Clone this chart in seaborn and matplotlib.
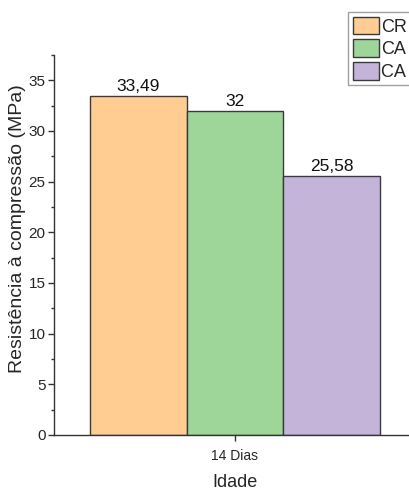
import matplotlib
matplotlib.use("Agg")
import matplotlib.pyplot as plt
import seaborn as sns
import pandas as pd
from matplotlib.patches import Patch
from matplotlib.ticker import MultipleLocator

categories = ["14 Dias"]
groups = ["CR", "CA", "CA "]
values = [33.49, 32.0, 25.58]
value_labels = ["33,49", "32", "25,58"]
colors = ["#FFCC91", "#9ED69A", "#C5B4D9"]

sns.set_style("ticks")
plt.rcParams["font.family"] = ["Liberation Sans", "DejaVu Sans"]

df = pd.DataFrame({"Idade": categories * len(groups), "grupo": groups, "valor": values})

fig = plt.figure(figsize=(4.10, 4.92), dpi=100)
ax = fig.add_axes([54/410, 1 - 435/492, 362/410, 380/492])

sns.barplot(data=df, x="Idade", y="valor", hue="grupo", hue_order=groups,
            palette=colors, edgecolor="#3a3a3a", linewidth=1.0, width=0.8,
            saturation=1, ax=ax, legend=False)

for cont, lab in zip(ax.containers, value_labels):
    ax.bar_label(cont, labels=[lab], padding=1, fontsize=12.5, color="#111111")

ax.set_ylim(0, 37.5)
ax.set_xlim(-0.5, 0.5)
ax.yaxis.set_major_locator(MultipleLocator(5))
ax.yaxis.set_minor_locator(MultipleLocator(2.5))
ax.tick_params(axis="y", which="major", direction="out", length=4, width=1, labelsize=11,
               color="#333333", pad=2)
ax.tick_params(axis="y", which="minor", direction="out", length=2.5, width=1, color="#333333")
ax.tick_params(axis="x", which="major", direction="out", length=4, width=1, labelsize=10,
               color="#333333", pad=6)
ax.set_ylabel("Resistência à compressão (MPa)", fontsize=14)
ax.yaxis.set_label_coords(-0.078, 0.542)
ax.set_xlabel("Idade", fontsize=13, labelpad=8)
for s in ["top", "right"]:
    ax.spines[s].set_visible(False)
for s in ["left", "bottom"]:
    ax.spines[s].set_color("#333333")
    ax.spines[s].set_linewidth(1.0)

handles = [Patch(facecolor=c, edgecolor="#3a3a3a", linewidth=1.0) for c in colors]
fig.legend(handles, groups, loc="upper left", bbox_to_anchor=(348/410, 1 - 12/492),
           frameon=True, fancybox=False, edgecolor="#888888", fontsize=13,
           handlelength=1.45, handleheight=1.15, handletextpad=0.15,
           labelspacing=0.2, borderpad=0.25, borderaxespad=0)

fig.savefig("out.png", dpi=100)
